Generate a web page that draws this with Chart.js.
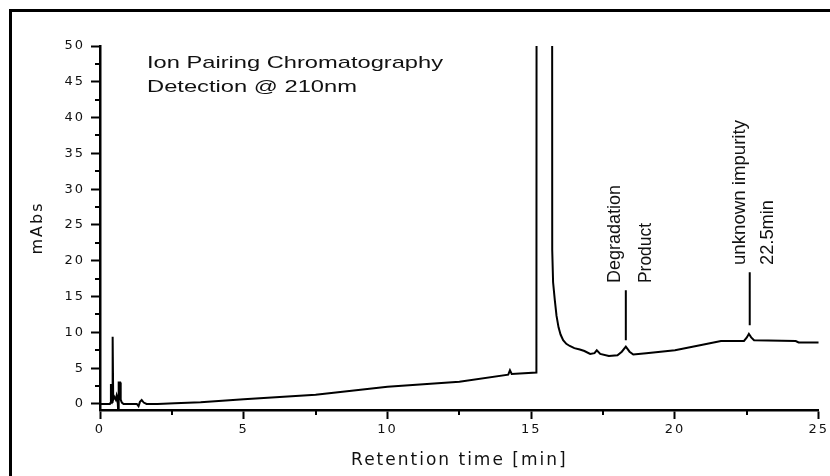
<!DOCTYPE html>
<html>
<head>
<meta charset="utf-8">
<title>Ion Pairing Chromatography</title>
<script src="https://cdn.jsdelivr.net/npm/chart.js@4.4.1/dist/chart.umd.min.js"></script>
<style>
    html, body { margin: 0; padding: 0; background: #ffffff; }
    #wrap { position: relative; width: 830px; height: 476px; }
    /* marco recortado del original: solo arriba e izquierda */
    #marco {
        position: absolute; left: 9px; top: 9px; right: 0; bottom: 0;
        border-top: 3px solid #000; border-left: 3px solid #000;
    }
    canvas { position: absolute; left: 0; top: 0; }
</style>
</head>
<body>
<div id="wrap">
    <div id="marco"></div>
    <canvas id="cromatograma" width="830" height="476"></canvas>
</div>
<script>
// ==========================================
// Datos leídos del cromatograma
// ==========================================
const retentionTime = [
    0, 0.34, 0.37, 0.38, 0.40, 0.43, 0.44, 0.46, 0.50, 0.55, 0.58, 0.61, 0.63, 0.65,
    0.70, 0.72, 0.76, 0.82, 1.28, 1.34, 1.39, 1.45, 1.52, 1.62, 2.0, 2.6,
    3.5, 5.0, 7.5, 10.0, 12.5, 14.2, 14.26, 14.32, 15.18, 15.22, 15.70, 15.73,
    15.76, 15.82, 15.88, 15.95, 16.02, 16.11, 16.22, 16.34, 16.5, 16.69, 16.85, 17.05,
    17.2, 17.28, 17.4, 17.7, 18.0, 18.15, 18.29, 18.42, 18.55, 19.0, 20.0, 21.0,
    21.6, 22.4, 22.5, 22.57, 22.65, 22.75, 24.2, 24.3, 25.0
];
const absorbance = [
    0, 0, 0.2, 2.8, 0.2, 0.3, 9.4, 0.6, 1.0, 0.6, 1.2, 0.8, -0.84, 3.0,
    3.0, 0.6, 0.2, 0, 0, -0.3, 0.3, 0.56, 0.2, 0, 0, 0.1,
    0.25, 0.65, 1.3, 2.4, 3.1, 4.1, 4.7, 4.2, 4.4, 400, 400, 21.5,
    17.0, 14.5, 12.3, 10.7, 9.7, 8.9, 8.4, 8.1, 7.8, 7.6, 7.4, 7.0,
    7.1, 7.5, 7.0, 6.7, 6.8, 7.3, 8.0, 7.3, 6.9, 7.1, 7.5, 8.3,
    8.8, 8.8, 9.3, 9.8, 9.3, 8.9, 8.8, 8.6, 8.6
];

const xTicks = [0, 5, 10, 15, 20, 25];
const yTicks = [0, 5, 10, 15, 20, 25, 30, 35, 40, 45, 50];
const xMinorTicks = [2.5, 7.5, 12.5, 17.5, 22.5];
const yMinorTicks = [2.5, 7.5, 12.5, 17.5, 22.5, 27.5, 32.5, 37.5, 42.5, 47.5];

const tituloX = 'Retention time [min]';
const tituloY = 'mAbs';
const notaMetodo = ['Ion Pairing Chromatography', 'Detection @ 210nm'];
const notaDegradacion = ['Degradation', 'Product'];
const notaImpureza = ['unknown impurity', '22.5min'];

// ==========================================
// Utilidades de dibujo
// ==========================================

// Texto ajustado a un largo dado (el original está estirado)
function textoAjustado(ctx, texto, x, y, fuente, largo, vertical) {
    ctx.save();
    ctx.translate(x, y);
    if (vertical) ctx.rotate(-Math.PI / 2);
    ctx.font = fuente;
    ctx.fillStyle = '#111111';
    ctx.textAlign = 'left';
    ctx.textBaseline = 'alphabetic';
    const w = ctx.measureText(texto).width;
    ctx.scale(largo / w, 1);
    ctx.fillText(texto, 0, 0);
    ctx.restore();
}

// Plugin: espaciado de letras en ejes (la imagen original está estirada)
const espaciadoEjes = {
    id: 'espaciadoEjes',
    beforeDraw(chart) { chart.ctx.letterSpacing = '2px'; },
    beforeDatasetsDraw(chart) { chart.ctx.letterSpacing = '0px'; }
};

// Plugin: marcas menores, líneas indicadoras y textos
const anotaciones = {
    id: 'anotaciones',
    afterDraw(chart) {
        const ctx = chart.ctx;
        const sx = chart.scales.x;
        const sy = chart.scales.y;
        const area = chart.chartArea;

        ctx.save();
        ctx.strokeStyle = '#000';
        ctx.lineWidth = 2;
        ctx.beginPath();
        xMinorTicks.forEach(v => {
            const px = Math.round(sx.getPixelForValue(v));
            ctx.moveTo(px, area.bottom);
            ctx.lineTo(px, area.bottom + 5);
        });
        yMinorTicks.forEach(v => {
            const py = Math.round(sy.getPixelForValue(v));
            ctx.moveTo(area.left, py);
            ctx.lineTo(area.left - 5, py);
        });
        ctx.stroke();

        // líneas que señalan los picos
        ctx.beginPath();
        ctx.moveTo(sx.getPixelForValue(18.29), sy.getPixelForValue(15.9));
        ctx.lineTo(sx.getPixelForValue(18.29), sy.getPixelForValue(8.9));
        ctx.moveTo(sx.getPixelForValue(22.6), sy.getPixelForValue(18.4));
        ctx.lineTo(sx.getPixelForValue(22.6), sy.getPixelForValue(11.0));
        ctx.stroke();
        ctx.restore();

        // textos
        const fh = '17px "Liberation Sans", Arial, sans-serif';
        const fv = '19px "Liberation Sans", Arial, sans-serif';
        textoAjustado(ctx, notaMetodo[0], 147, 68, fh, 296, false);
        textoAjustado(ctx, notaMetodo[1], 147, 92, fh, 210, false);
        textoAjustado(ctx, notaDegradacion[0], 620, 283, fv, 98, true);
        textoAjustado(ctx, notaDegradacion[1], 651, 283, fv, 60, true);
        textoAjustado(ctx, notaImpureza[0], 745, 265, fv, 145, true);
        textoAjustado(ctx, notaImpureza[1], 773, 265, fv, 65, true);
    }
};

// ==========================================
// Gráfico
// ==========================================
const ctxCroma = document.getElementById('cromatograma').getContext('2d');

const puntos = retentionTime.map((t, i) => ({ x: t, y: absorbance[i] }));

const fuenteEjes = { family: '"DejaVu Sans", sans-serif', size: 13 };

new Chart(ctxCroma, {
    type: 'line',
    data: {
        datasets: [{
            data: puntos,
            borderColor: '#000000',
            borderWidth: 2,
            pointRadius: 0,
            tension: 0,
            fill: false
        }]
    },
    options: {
        responsive: false,
        animation: false,
        layout: { padding: { left: 0, right: 11, top: 46, bottom: 0 } },
        plugins: {
            legend: { display: false },
            tooltip: { enabled: false }
        },
        scales: {
            x: {
                type: 'linear',
                min: 0,
                max: 25,
                afterFit: s => { s.height = 66; },
                afterBuildTicks: s => { s.ticks = xTicks.map(v => ({ value: v })); },
                grid: { drawOnChartArea: false, drawTicks: true, tickLength: 9, tickWidth: 2, tickColor: '#000' },
                border: { display: true, color: '#000', width: 2.5 },
                ticks: { color: '#111', font: fuenteEjes, padding: 3, maxRotation: 0 },
                title: {
                    display: true, text: tituloX, color: '#111',
                    font: { family: '"DejaVu Sans", sans-serif', size: 17 },
                    padding: { top: 0, bottom: 5 }
                }
            },
            y: {
                type: 'linear',
                min: -0.84,
                max: 50,
                afterFit: s => { s.width = 100; },
                afterBuildTicks: s => { s.ticks = yTicks.map(v => ({ value: v })); },
                grid: { drawOnChartArea: false, drawTicks: true, tickLength: 9, tickWidth: 2, tickColor: '#000' },
                border: { display: true, color: '#000', width: 2.5 },
                ticks: { color: '#111', font: fuenteEjes, padding: 6 },
                title: {
                    display: true, text: tituloY, color: '#111',
                    font: { family: '"DejaVu Sans", sans-serif', size: 16 },
                    padding: { top: 28, bottom: 0 }
                }
            }
        }
    },
    plugins: [espaciadoEjes, anotaciones]
});
</script>
</body>
</html>
